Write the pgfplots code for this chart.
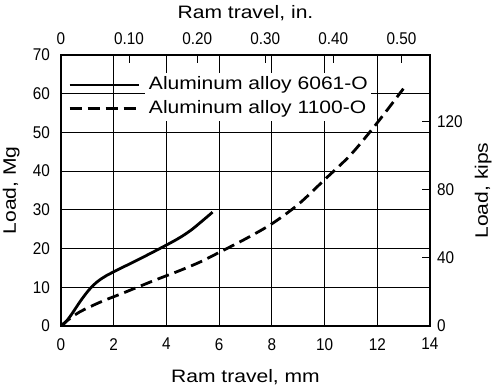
\documentclass[border=0pt]{standalone}
\usepackage{pgfplots}
\pgfplotsset{compat=1.18}
\usepackage{fontspec}
\setmainfont{Liberation Sans}[FakeStretch=1.17]
\newfontfamily\numfont{Liberation Sans}[FakeStretch=0.9]
\setlength{\fboxsep}{3.5pt}
\newcommand{\wb}[1]{\colorbox{white}{#1}}

\begin{document}
\begin{tikzpicture}
\begin{axis}[
  scale only axis, width=369pt, height=271pt,
  xmin=0, xmax=14, ymin=0, ymax=70,
  xtick={0,2,...,14}, ytick={0,10,...,70},
  grid=major, major grid style={black, line width=0.8pt},
  major tick length=0pt,
  axis line style={line width=1.6pt},
  xtick pos=bottom, ytick pos=left,
  tick label style={font=\numfont\fontsize{17}{17}\selectfont, inner sep=0pt},
  /pgf/number format/assume math mode=true,
  xticklabel shift=12pt, yticklabel shift=11pt,
  xlabel={Ram travel, mm}, ylabel={Load, Mg},
  label style={font=\fontsize{18}{18}\selectfont},
  xlabel style={at={(axis description cs:0.5,-0.2103)}, anchor=base},
  ylabel style={at={(axis description cs:-0.122,0.5)}, anchor=base},
  legend style={at={(axis description cs:0,1)}, anchor=north west, xshift=7pt, yshift=-18pt,
    draw=none, fill=none, inner sep=0pt, font=\fontsize{18}{18}\selectfont,
    column sep=5.5pt, row sep=0pt, nodes={inner sep=0pt, text depth={}}},
  legend cell align=left,
  legend image code/.code={\draw[#1] (0pt,0pt) -- (69pt,0pt);},
]
\addplot[black, line width=2.8pt, smooth, tension=0.6] coordinates {
  (0,0) (0.15,0.8) (0.39,2.9) (0.77,6.75) (1.15,10.0) (1.53,12.2) (1.97,13.9)
  (2.8,16.7) (3.55,19.3) (4.4,22.4) (4.9,24.6) (5.3,26.8) (5.75,29.4)
};
\addlegendentry{\wb{Aluminum alloy 6061-O}}
\addplot[black, line width=2.8pt, smooth, dash pattern=on 12pt off 6pt] coordinates {
  (0,0) (0.2,1.2) (0.7,3.6) (1.5,6.2) (2.35,8.5) (3.55,11.8) (4.5,14.3) (5.3,16.6) (6,19.0)
  (7,22.5) (8,26.4) (9,31.4) (10,37.8) (11,44.3) (12,52.5) (12.99,61.3)
};
\addlegendentry{\wb{Aluminum alloy 1100-O}}
\end{axis}
\begin{axis}[
  scale only axis, width=369pt, height=271pt,
  xmin=0, xmax=0.542, ymin=0, ymax=159.4,
  axis x line*=top, axis y line*=right,
  xtick={0,0.1,0.2,0.3,0.4,0.5}, xticklabels={0,0.10,0.20,0.30,0.40,0.50},
  ytick={0,40,80,120},
  tick align=inside, major tick length=8pt,
  tick style={black, line width=1pt},
  axis line style={line width=1.6pt},
  tick label style={font=\numfont\fontsize{17}{17}\selectfont, inner sep=0pt},
  /pgf/number format/assume math mode=true,
  xticklabel shift=10pt, yticklabel shift=7pt,
  xlabel={Ram travel, in.}, ylabel={Load, kips},
  label style={font=\fontsize{18}{18}\selectfont},
  xlabel style={at={(axis description cs:0.5,1.1365)}, anchor=base},
  ylabel style={at={(axis description cs:1.157,0.5)}, anchor=base},
]
\end{axis}
\pgfresetboundingbox
\path (-61pt,-62pt) rectangle (435pt,326pt);
\end{tikzpicture}
\end{document}
